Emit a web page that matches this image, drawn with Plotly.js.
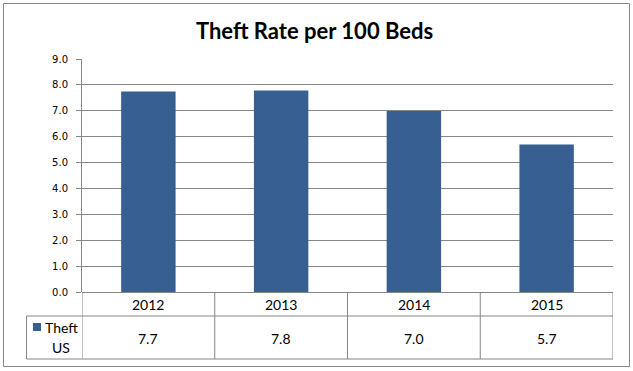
<!DOCTYPE html>
<html>
<head>
<meta charset="utf-8">
<script src="https://cdn.plot.ly/plotly-3.0.1.min.js"></script>
<style>html,body{margin:0;padding:0;background:#fff;}#chart{width:633px;height:371px;}</style>
</head>
<body>
<div id="chart"></div>
<script>
const chartTitle = "Theft Rate per 100 Beds";
const categories = ["2012", "2013", "2014", "2015"];
const seriesName = "Theft US";
const theftValues = [7.74, 7.78, 6.99, 5.70];
const yTickValues = [0, 1, 2, 3, 4, 5, 6, 7, 8, 9];

const W = 633, H = 371;
const M = {l: 82, r: 20, t: 59, b: 79};
const PW = W - M.l - M.r, PH = H - M.t - M.b;
const px = p => (p - M.l) / PW;          // pixel x -> paper x
const py = p => (H - M.b - p) / PH;      // pixel y -> paper y

const barColor = "#385f92";
const lineColor = "#868686";
const tableFont = {family: "Lato", size: 14, color: "#000"};

const shapes = [];
const line = (o) => Object.assign({type: "line", line: {color: lineColor, width: 1}, layer: "above"}, o);

// outer chart border
shapes.push({type: "rect", xref: "paper", yref: "paper", x0: px(3.5), x1: px(629.5), y0: py(366.5), y1: py(3.5),
  line: {color: lineColor, width: 1}, fillcolor: "rgba(0,0,0,0)"});
// table vertical lines at category boundaries
for (let i = 0; i <= categories.length; i++) {
  shapes.push(line({xref: "x", yref: "paper", x0: i - 0.5, x1: i - 0.5, y0: py(292), y1: py(359)}));
}
// table horizontal lines
shapes.push(line({xref: "paper", yref: "paper", x0: px(26.5), x1: 1, y0: py(316), y1: py(316)}));
shapes.push(line({xref: "paper", yref: "paper", x0: px(26.5), x1: 1, y0: py(359), y1: py(359)}));
shapes.push(line({xref: "paper", yref: "paper", x0: px(26.5), x1: px(26.5), y0: py(316), y1: py(359)}));
// legend key
shapes.push({type: "rect", xref: "paper", yref: "paper", x0: px(33), x1: px(41), y0: py(331), y1: py(323),
  line: {width: 0}, fillcolor: barColor});

const annotations = [];
categories.forEach((c, i) => {
  annotations.push({xref: "x", yref: "paper", x: i, y: py(304), text: c, showarrow: false,
    xanchor: "center", yanchor: "middle", font: tableFont});
  annotations.push({xref: "x", yref: "paper", x: i, y: py(338), text: theftValues[i].toFixed(1), showarrow: false,
    xanchor: "center", yanchor: "middle", font: tableFont});
});
seriesName.split(" ").forEach((w, k) => {
  annotations.push({xref: "paper", yref: "paper", x: px(61), y: py(327 + 20 * k), text: w, showarrow: false,
    xanchor: "center", yanchor: "middle", font: tableFont});
});

const data = [{
  type: "bar",
  x: categories,
  y: theftValues,
  name: seriesName,
  marker: {color: barColor, line: {width: 0}},
  hoverinfo: "skip"
}];

const layout = {
  width: W, height: H,
  margin: M,
  paper_bgcolor: "#fff", plot_bgcolor: "#fff",
  showlegend: false,
  bargap: 0.59,
  title: {text: chartTitle, x: 0.497, xanchor: "center", y: 1 - 31 / H, yanchor: "middle",
    font: {family: "Lato", size: 22, weight: 700, color: "#000"}},
  xaxis: {type: "category", range: [-0.5, categories.length - 0.5], showticklabels: false,
    showgrid: false, zeroline: false, showline: false, ticks: "", fixedrange: true},
  yaxis: {range: [0, 9], tickvals: yTickValues, tickformat: ".1f", ticks: "outside", ticklen: 5,
    tickcolor: lineColor, tickwidth: 1, showline: true, linecolor: lineColor, linewidth: 1,
    showgrid: true, gridcolor: lineColor, gridwidth: 1, zeroline: true, zerolinecolor: lineColor, zerolinewidth: 1,
    ticklabelstandoff: 6,
    tickfont: {family: "DejaVu Sans", size: 10, color: "#000"}, fixedrange: true},
  shapes: shapes,
  annotations: annotations
};

Plotly.newPlot("chart", data, layout, {staticPlot: true, displayModeBar: false});
</script>
</body>
</html>
